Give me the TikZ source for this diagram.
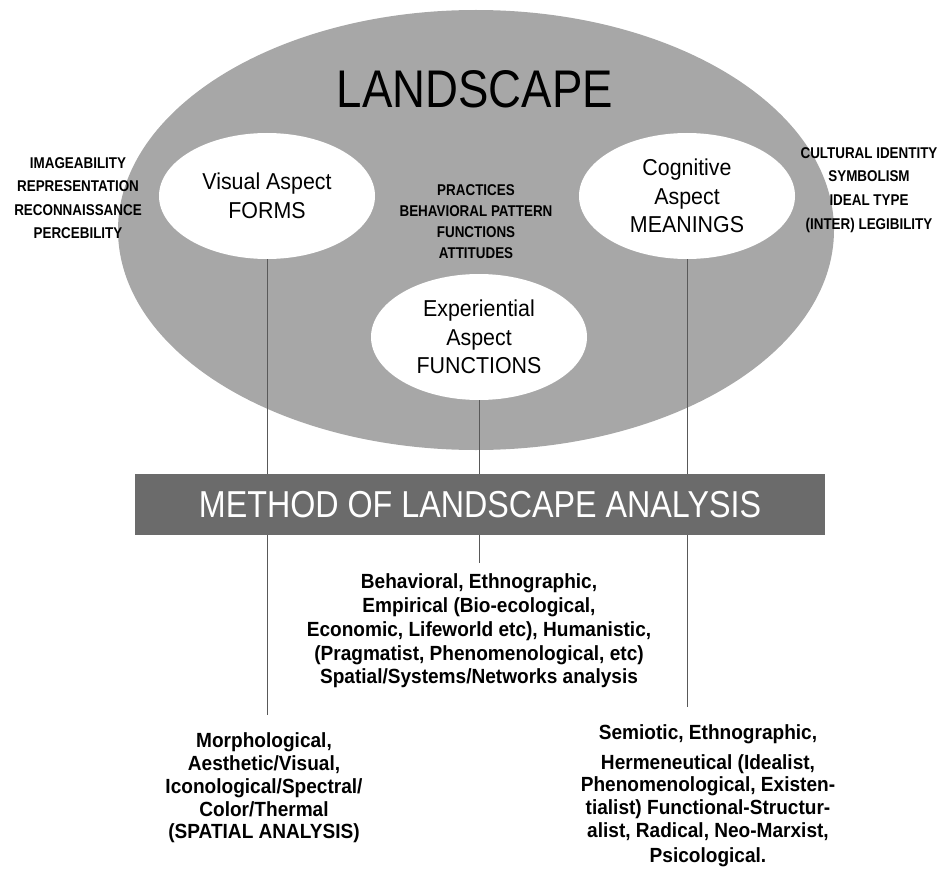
\documentclass[tikz,border=0pt]{standalone}
\usepackage{fontspec}
\setmainfont{Liberation Sans}
\newfontfamily\tagfont[FakeStretch=0.86]{Liberation Sans}
\newfontfamily\aspectfont[FakeStretch=0.93]{Liberation Sans}
\usepackage{xcolor}
\usetikzlibrary{positioning, shapes.geometric}

\definecolor{landgray}{HTML}{A7A7A7}
\definecolor{methodgray}{HTML}{6B6B6B}

\begin{document}
\begin{tikzpicture}[
    x=1pt, y=-1pt,
    aspect/.style={ellipse, fill=white, inner sep=0pt, minimum width=216pt, minimum height=126pt, align=center, font=\aspectfont\fontsize{23}{28.5}\selectfont},
    keywords/.style={align=center, inner sep=0pt, font=\tagfont\bfseries\fontsize{15.6}{23.3}\selectfont},
    methods/.style={align=center, inner sep=0pt, font=\aspectfont\bfseries\fontsize{20.5}{23.7}\selectfont},
    link/.style={draw=black!65, line width=0.8pt}
]
\useasboundingbox (0,0) rectangle (944,869);

% the landscape and its three aspects
\node[ellipse, fill=landgray, minimum width=716pt, minimum height=440pt] (landscape) at (476,230) {};
\node[font=\tagfont\fontsize{53}{60}\selectfont] (title) at (475,89) {LANDSCAPE};
\node[aspect] (visual) at (267,196) {Visual Aspect\\FORMS};
\node[aspect] (cognitive) at (687,196) {Cognitive\\Aspect\\MEANINGS};
\node[aspect] (experiential) at (479,337) {Experiential\\Aspect\\FUNCTIONS};

\node[keywords] (visualwords) at (78,198) {IMAGEABILITY\\REPRESENTATION\\RECONNAISSANCE\\PERCEBILITY};
\node[keywords, font=\tagfont\bfseries\fontsize{15.6}{21}\selectfont] (experientialwords) at (476,222) {PRACTICES\\BEHAVIORAL PATTERN\\FUNCTIONS\\ATTITUDES};
\node[keywords, font=\tagfont\bfseries\fontsize{15.6}{23.7}\selectfont] (cognitivewords) at (869,190) {CULTURAL IDENTITY\\SYMBOLISM\\IDEAL TYPE\\(INTER) LEGIBILITY};

% lines down to the methods
\coordinate (visualfoot) at (267,715);
\coordinate (experientialfoot) at (479,563);
\coordinate (cognitivefoot) at (687,707);
\draw[link] (visual.south) -- (visualfoot);
\draw[link] (experiential.south) -- (experientialfoot);
\draw[link] (cognitive.south) -- (cognitivefoot);

\node[fill=methodgray, minimum width=690pt, minimum height=61pt, text=white, font=\tagfont\fontsize{37.5}{40}\selectfont] (method) at (480,504.5) {METHOD OF LANDSCAPE ANALYSIS};

\node[methods] (experientialmethods) at (479,631) {Behavioral, Ethnographic,\\Empirical (Bio-ecological,\\Economic, Lifeworld etc), Humanistic,\\(Pragmatist, Phenomenological, etc)\\Spatial/Systems/Networks analysis};
\node[methods, font=\aspectfont\bfseries\fontsize{20.5}{22.8}\selectfont] (visualmethods) at (264,788) {Morphological,\\Aesthetic/Visual,\\Iconological/Spectral/\\Color/Thermal\\(SPATIAL ANALYSIS)};
\node[methods, font=\aspectfont\bfseries\fontsize{20.5}{22.6}\selectfont] (cognitivemethods) at (708,796) {Semiotic, Ethnographic,\\[7pt]Hermeneutical (Idealist,\\Phenomenological, Existen-\\tialist) Functional-Structur-\\alist, Radical, Neo-Marxist,\\[3pt]Psicological.};
\end{tikzpicture}
\end{document}
